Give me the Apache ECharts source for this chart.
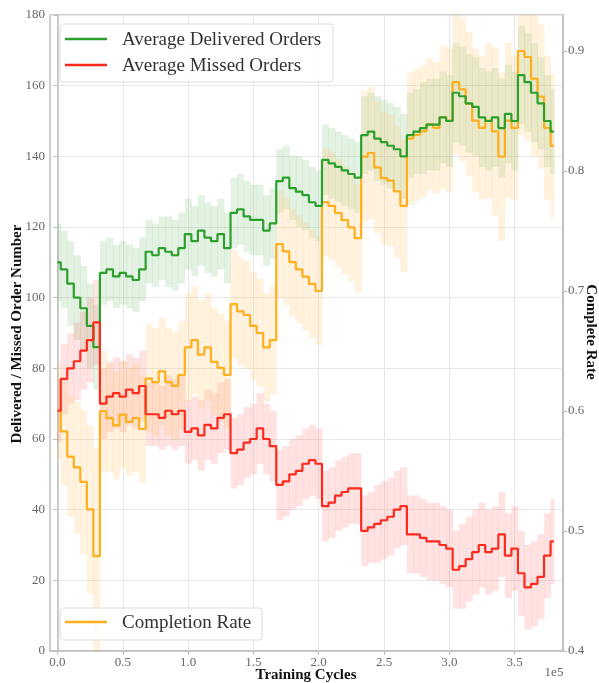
<!DOCTYPE html>
<html><head><meta charset="utf-8">
<script src="https://cdn.jsdelivr.net/npm/echarts@6/dist/echarts.min.js"></script>
<style>html,body{margin:0;padding:0;background:#fff}#c{width:599px;height:683px}</style>
</head><body><div id="c"></div><script>
// Training cycles, in thousands (axis shows units of 1e5)
const cycles = [0,5,10,15,20,25,30,35,40,45,50,55,60,65,70,75,80,85,90,95,100,105,110,115,120,125,130,135,140,145,150,155,160,165,170,175,180,185,190,195,200,205,210,215,220,225,230,235,240,245,250,255,260,265,270,275,280,285,290,295,300,305,310,315,320,325,330,335,340,345,350,355,360,365,370,375,380];
const xTicks = [0,50,100,150,200,250,300,350];
const rateTicks = [0.4,0.5,0.6,0.7,0.8,0.9];

const delivered = [110,108,104,100,97,92,86, 107,108,106,107,106,105,108, 113,112,114,113,112,114, 118,116,119,117,116,118,114, 124,125,123,122,122,119,121, 133,134,131,130,129,127,126, 139,138,137,136,135,134, 146,147,145,144,143,142,140, 146,147,148,149,149,151,150, 158,157,155,154,151,150,151,148,152,150, 163,161,158,155,150,147];
const missed = [68,77,80,82,85,88,93, 70,72,73,72,74,73,75, 67,67,66,68,67,68, 62,63,61,64,63,66,67, 56,57,59,60,63,60,58, 47,48,50,51,53,54,53, 41,42,44,45,46,46, 34,35,36,37,38,40,41, 33,33,32,31,31,30,29, 23,24,26,28,30,28,29,33,27,29, 22,18,19,21,27,31];
const completion = [0.600,0.583,0.562,0.553,0.541,0.518,0.479, 0.600,0.594,0.588,0.597,0.591,0.594,0.585, 0.627,0.624,0.633,0.624,0.621,0.630, 0.653,0.659,0.647,0.653,0.641,0.636,0.630, 0.689,0.683,0.680,0.671,0.665,0.653,0.659, 0.739,0.733,0.724,0.718,0.712,0.706,0.700, 0.774,0.771,0.765,0.759,0.753,0.744, 0.812,0.815,0.803,0.794,0.792,0.783,0.771, 0.827,0.830,0.833,0.839,0.836,0.845,0.842, 0.874,0.868,0.856,0.842,0.836,0.842,0.833,0.812,0.842,0.836, 0.900,0.895,0.877,0.862,0.836,0.821];

// half-widths of the shaded bands
const deliveredSpread = [11,11,12,12,12,12,12, 9,9,9,9,9,9,9, 9,9,9,10,10,10, 10,10,10,10,10,10,10, 10,10,10,10,10,10,10, 9,9,9,10,10,10,10, 10,10,10,10,10,10, 11,11,12,12,12,12,12, 12,12,13,13,13,13,13, 14,14,14,14,14,14,14,14,14,14, 14,14,14,13,13,12];
const missedSpread = [9,10,10,11,11,12,12, 10,10,10,10,10,10,10, 9,9,9,10,10,10, 9,9,10,10,10,10,10, 10,10,10,10,10,10,10, 10,10,10,10,10,10,10, 10,10,10,10,10,10, 10,10,11,11,11,11,11, 11,11,11,11,11,11,11, 11,12,12,12,12,12,12,12,12,12, 12,12,12,12,12,12];
const completionSpread = [0.04,0.045,0.05,0.055,0.06,0.07,0.09, 0.05,0.045,0.045,0.045,0.045,0.045,0.045, 0.045,0.045,0.045,0.045,0.045,0.045, 0.045,0.045,0.045,0.045,0.045,0.045,0.045, 0.045,0.045,0.045,0.045,0.045,0.045,0.045, 0.045,0.045,0.045,0.045,0.045,0.045,0.045, 0.045,0.045,0.045,0.045,0.045,0.045, 0.055,0.055,0.055,0.055,0.055,0.055,0.055, 0.055,0.055,0.055,0.055,0.055,0.06,0.06, 0.06,0.06,0.06,0.06,0.06,0.065,0.07,0.07,0.065,0.06, 0.07,0.07,0.065,0.06,0.06,0.06];

const GREEN = '#2ca02c', RED = '#ff2a1e', ORANGE = '#ffae1c';
const F = '"Liberation Serif", "DejaVu Serif", serif';

// shaded band: one rectangle per sample, spanning to the midpoints of its neighbours
function band(vals, spread, color, yAxisIndex) {
  return {
    type:'custom', yAxisIndex, silent:true, z:1, clip:true,
    data: cycles.map((x,i)=>[x, vals[i]-spread[i], vals[i]+spread[i]]),
    encode:{x:0, y:[1,2]},
    renderItem: function(params, api) {
      const i = params.dataIndex;
      const x = api.value(0);
      const xl = i > 0 ? (cycles[i-1] + x) / 2 : x;
      const xr = i < cycles.length-1 ? (cycles[i+1] + x) / 2 : x;
      const p0 = api.coord([xl, api.value(2)]);
      const p1 = api.coord([xr, api.value(1)]);
      const cs = params.coordSys;
      const rect = echarts.graphic.clipRectByRect(
        {x:p0[0], y:p0[1], width:p1[0]-p0[0]+0.5, height:p1[1]-p0[1]},
        {x:cs.x, y:cs.y, width:cs.width, height:cs.height});
      if (!rect) return null;
      return {type:'rect', shape:rect, style:{fill:color}};
    }
  };
}
function line(name, vals, color, yAxisIndex, z) {
  return {type:'line', name, yAxisIndex, step:'middle', showSymbol:false, z,
    lineStyle:{color, width:2.2}, itemStyle:{color}, data: cycles.map((x,i)=>[x, vals[i]])};
}

const axisColor = '#bdbdbd';
const chart = echarts.init(document.getElementById('c'));
chart.setOption({
  animation:false,
  grid:{left:50, right:36, top:15, bottom:32, show:true, borderColor:axisColor, borderWidth:1.5, backgroundColor:'transparent'},
  xAxis:{type:'value', min:-5.7, max:387,
    axisLine:{lineStyle:{color:axisColor, width:1.5}},
    axisTick:{customValues:xTicks, length:4, lineStyle:{color:axisColor}},
    axisLabel:{customValues:xTicks, formatter:v=>(v/100).toFixed(1), color:'#666', fontFamily:F, fontSize:13, margin:5},
    splitLine:{show:true, lineStyle:{color:'#e8e8e8', width:1}}},
  yAxis:[
    {type:'value', min:0, max:180, interval:20,
     axisLine:{show:true, lineStyle:{color:axisColor, width:1.5}},
     axisTick:{show:true, length:4, lineStyle:{color:axisColor}},
     axisLabel:{color:'#666', fontFamily:F, fontSize:13, margin:5},
     splitLine:{show:true, lineStyle:{color:'#e8e8e8', width:1}}},
    {type:'value', position:'right', min:0.4, max:0.93,
     axisLine:{show:true, lineStyle:{color:axisColor, width:1.5}},
     axisTick:{show:true, customValues:rateTicks, length:4, lineStyle:{color:axisColor}},
     axisLabel:{customValues:rateTicks, formatter:v=>v.toFixed(1), color:'#666', fontFamily:F, fontSize:13, margin:5},
     splitLine:{show:false}}
  ],
  series:[
    band(delivered, deliveredSpread, 'rgba(80,175,80,0.16)', 0),
    band(missed, missedSpread, 'rgba(255,90,90,0.17)', 0),
    band(completion, completionSpread, 'rgba(255,190,90,0.2)', 1),
    line('Average Delivered Orders', delivered, GREEN, 0, 5),
    line('Completion Rate', completion, ORANGE, 1, 4),
    line('Average Missed Orders', missed, RED, 0, 6)
  ],
  graphic:[
    {type:'text', z:100, x:17, y:334, rotation:Math.PI/2, style:{text:'Delivered / Missed Order Number', font:'bold 15px '+F, fill:'#111', align:'center', verticalAlign:'middle'}},
    {type:'text', z:100, x:591, y:332, rotation:-Math.PI/2, style:{text:'Complete Rate', font:'bold 15px '+F, fill:'#111', align:'center', verticalAlign:'middle'}},
    {type:'text', z:100, x:306, y:675, style:{text:'Training Cycles', font:'bold 15px '+F, fill:'#111', align:'center', verticalAlign:'middle'}},
    {type:'text', z:100, x:554, y:673, style:{text:'1e5', font:'13px '+F, fill:'#666', align:'center', verticalAlign:'middle'}},
    {type:'rect', z:100, shape:{x:60, y:24, width:273, height:58, r:3}, style:{fill:'rgba(255,255,255,0.85)', stroke:'#dddddd', lineWidth:1}},
    {type:'line', z:101, shape:{x1:65, y1:39, x2:107, y2:39}, style:{stroke:GREEN, lineWidth:2.5}},
    {type:'line', z:101, shape:{x1:65, y1:65, x2:107, y2:65}, style:{stroke:RED, lineWidth:2.5}},
    {type:'text', z:101, x:122, y:40, style:{text:'Average Delivered Orders', font:'19px '+F, fill:'#333', verticalAlign:'middle'}},
    {type:'text', z:101, x:122, y:66, style:{text:'Average Missed Orders', font:'19px '+F, fill:'#333', verticalAlign:'middle'}},
    {type:'rect', z:100, shape:{x:60, y:608, width:202, height:32, r:3}, style:{fill:'rgba(255,255,255,0.85)', stroke:'#dddddd', lineWidth:1}},
    {type:'line', z:101, shape:{x1:65, y1:622, x2:107, y2:622}, style:{stroke:ORANGE, lineWidth:2.5}},
    {type:'text', z:101, x:122, y:623, style:{text:'Completion Rate', font:'19px '+F, fill:'#333', verticalAlign:'middle'}}
  ]
});
</script></body></html>
